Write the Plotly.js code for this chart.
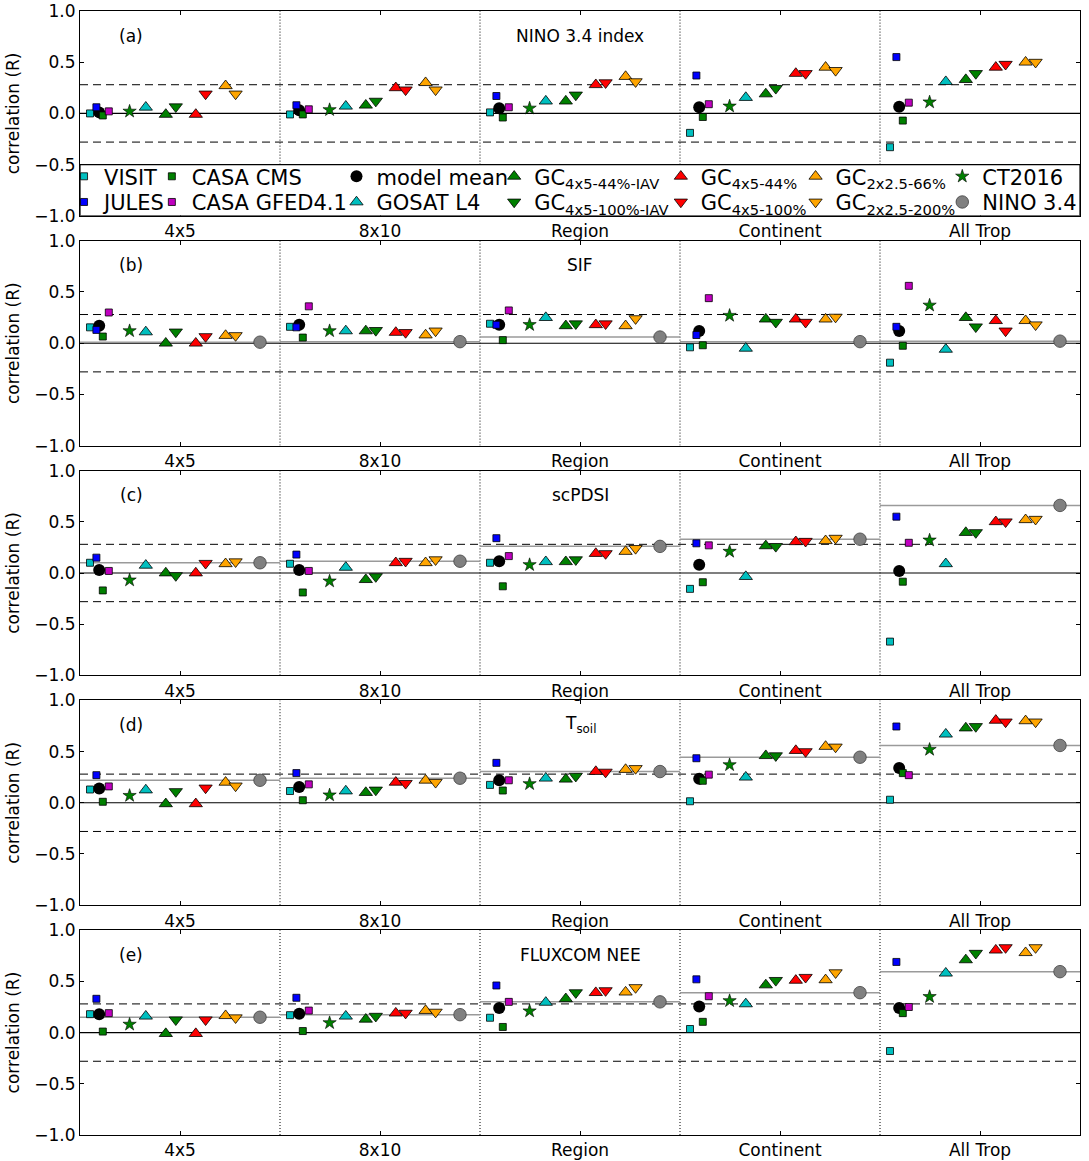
<!DOCTYPE html>
<html>
<head>
<meta charset="utf-8">
<script src="https://cdn.plot.ly/plotly-3.0.1.min.js"></script>
<style>body{margin:0;padding:0;background:#fff;} #chart{width:1089px;height:1161px;}</style>
</head>
<body>
<div id="chart"></div>
<script>
// ---------------- DATA ----------------
const groups = ['4x5', '8x10', 'Region', 'Continent', 'All Trop'];
const panelLetters = ['(a)', '(b)', '(c)', '(d)', '(e)'];
const panelTitles = ['NINO 3.4 index', 'SIF', 'scPDSI', 'T<sub>soil</sub>', 'FLUXCOM NEE'];
const sigR = 0.28;

// values: [panel a..e][group 4x5, 8x10, Region, Continent, All Trop]
const VISIT = [
  [0.0, -0.01, 0.01, -0.19, -0.33],
  [0.155, 0.16, 0.19, -0.04, -0.19],
  [0.10, 0.09, 0.10, -0.155, -0.67],
  [0.13, 0.115, 0.175, 0.015, 0.03],
  [0.18, 0.17, 0.145, 0.035, -0.18]];
const JULES = [
  [0.06, 0.08, 0.17, 0.37, 0.55],
  [0.13, 0.155, 0.18, 0.08, 0.16],
  [0.15, 0.18, 0.34, 0.29, 0.55],
  [0.27, 0.29, 0.39, 0.435, 0.745],
  [0.33, 0.34, 0.46, 0.52, 0.69]];
const MODEL_MEAN = [
  [0.01, 0.03, 0.05, 0.06, 0.065],
  [0.17, 0.18, 0.18, 0.12, 0.12],
  [0.03, 0.03, 0.115, 0.08, 0.02],
  [0.14, 0.155, 0.22, 0.235, 0.34],
  [0.18, 0.185, 0.24, 0.255, 0.24]];
const CASA_CMS = [
  [-0.02, -0.01, -0.04, -0.035, -0.07],
  [0.065, 0.055, 0.03, -0.02, -0.025],
  [-0.17, -0.19, -0.13, -0.09, -0.085],
  [0.01, 0.025, 0.12, 0.215, 0.29],
  [0.01, 0.015, 0.055, 0.105, 0.19]];
const CASA_GFED = [
  [0.02, 0.04, 0.06, 0.09, 0.105],
  [0.30, 0.36, 0.32, 0.44, 0.56],
  [0.02, 0.02, 0.165, 0.27, 0.295],
  [0.16, 0.18, 0.22, 0.275, 0.27],
  [0.19, 0.215, 0.30, 0.355, 0.25]];
const CT2016 = [
  [0.02, 0.035, 0.05, 0.07, 0.11],
  [0.12, 0.12, 0.18, 0.27, 0.37],
  [-0.07, -0.08, 0.08, 0.21, 0.32],
  [0.07, 0.075, 0.185, 0.37, 0.52],
  [0.08, 0.095, 0.21, 0.31, 0.35]];
const GOSAT_L4 = [
  [0.06, 0.07, 0.12, 0.155, 0.31],
  [0.11, 0.12, 0.25, -0.05, -0.06],
  [0.075, 0.055, 0.11, -0.035, 0.09],
  [0.125, 0.115, 0.24, 0.25, 0.67],
  [0.16, 0.16, 0.295, 0.28, 0.58]];
const GC_44_IAV = [
  [-0.01, 0.08, 0.12, 0.19, 0.33],
  [0.0, 0.12, 0.17, 0.235, 0.25],
  [0.0, -0.065, 0.11, 0.265, 0.395],
  [-0.01, 0.10, 0.23, 0.46, 0.73],
  [-0.01, 0.13, 0.33, 0.465, 0.71]];
const GC_100_IAV = [
  [0.065, 0.12, 0.18, 0.245, 0.39],
  [0.11, 0.125, 0.19, 0.205, 0.16],
  [-0.025, -0.035, 0.13, 0.26, 0.395],
  [0.11, 0.125, 0.26, 0.46, 0.745],
  [0.125, 0.16, 0.39, 0.51, 0.775]];
const GC_44 = [
  [-0.01, 0.25, 0.28, 0.39, 0.45],
  [0.0, 0.105, 0.18, 0.235, 0.22],
  [0.0, 0.10, 0.19, 0.305, 0.50],
  [-0.01, 0.20, 0.305, 0.51, 0.805],
  [-0.01, 0.19, 0.39, 0.51, 0.805]];
const GC_100 = [
  [0.19, 0.23, 0.30, 0.39, 0.48],
  [0.065, 0.105, 0.19, 0.205, 0.12],
  [0.095, 0.115, 0.19, 0.31, 0.50],
  [0.145, 0.19, 0.30, 0.50, 0.79],
  [0.125, 0.19, 0.41, 0.54, 0.83]];
const GC_66 = [
  [0.27, 0.30, 0.36, 0.45, 0.50],
  [0.075, 0.08, 0.17, 0.235, 0.22],
  [0.09, 0.10, 0.21, 0.315, 0.52],
  [0.20, 0.22, 0.325, 0.55, 0.80],
  [0.165, 0.215, 0.395, 0.515, 0.78]];
const GC_200 = [
  [0.19, 0.23, 0.31, 0.42, 0.50],
  [0.075, 0.12, 0.24, 0.255, 0.18],
  [0.11, 0.13, 0.24, 0.34, 0.525],
  [0.165, 0.20, 0.335, 0.545, 0.79],
  [0.145, 0.20, 0.44, 0.585, 0.83]];
const NINO34 = [
  null,
  [0.01, 0.015, 0.06, 0.015, 0.02],
  [0.10, 0.115, 0.26, 0.33, 0.66],
  [0.22, 0.24, 0.305, 0.445, 0.56],
  [0.15, 0.175, 0.30, 0.39, 0.595]];

// ---------------- STYLE ----------------
const CY = '#00BFBF', BL = '#0000FF', GR = '#008000', MG = '#BF00BF', RD = '#FF0000', OR = '#FFA500';
const series = [
  {name: 'model mean', data: MODEL_MEAN, sym: 'circle', color: '#000000', size: 12, lw: 0, off: 0.096, col: 2, row: 0},
  {name: 'VISIT', data: VISIT, sym: 'square', color: CY, size: 7, lw: 0.8, off: 0.05, col: 0, row: 0},
  {name: 'JULES', data: JULES, sym: 'square', color: BL, size: 7, lw: 0.8, off: 0.082, col: 0, row: 1},
  {name: 'CASA CMS', data: CASA_CMS, sym: 'square', color: GR, size: 7, lw: 0.8, off: 0.114, col: 1, row: 0},
  {name: 'CASA GFED4.1', data: CASA_GFED, sym: 'square', color: MG, size: 7, lw: 0.8, off: 0.144, col: 1, row: 1},
  {name: 'CT2016', data: CT2016, sym: 'star', color: GR, size: 10, lw: 0.6, off: 0.248, col: 6, row: 0},
  {name: 'GOSAT L4', data: GOSAT_L4, sym: 'triangle-up', color: CY, size: 11.5, lw: 0.8, off: 0.329, col: 2, row: 1},
  {name: 'GC<sub>4x5-44%-IAV</sub>', data: GC_44_IAV, sym: 'triangle-up', color: GR, size: 11.5, lw: 0.8, off: 0.429, col: 3, row: 0},
  {name: 'GC<sub>4x5-100%-IAV</sub>', data: GC_100_IAV, sym: 'triangle-down', color: GR, size: 11.5, lw: 0.8, off: 0.479, col: 3, row: 1},
  {name: 'GC<sub>4x5-44%</sub>', data: GC_44, sym: 'triangle-up', color: RD, size: 11.5, lw: 0.8, off: 0.579, col: 4, row: 0},
  {name: 'GC<sub>4x5-100%</sub>', data: GC_100, sym: 'triangle-down', color: RD, size: 11.5, lw: 0.8, off: 0.628, col: 4, row: 1},
  {name: 'GC<sub>2x2.5-66%</sub>', data: GC_66, sym: 'triangle-up', color: OR, size: 11.5, lw: 0.8, off: 0.728, col: 5, row: 0},
  {name: 'GC<sub>2x2.5-200%</sub>', data: GC_200, sym: 'triangle-down', color: OR, size: 11.5, lw: 0.8, off: 0.778, col: 5, row: 1},
  {name: 'NINO 3.4', data: NINO34, sym: 'circle', color: '#808080', size: 12.5, lw: 0.8, off: 0.90, col: 6, row: 1, lc: '#404040'}
];

// geometry
const W = 1089, H = 1161;
const mL = 80, mR = 7, mT = 10.5, mB = 25.5;
const plotW = W - mL - mR, plotH = H - mT - mB;
const panelStep = 230, panelH = 205;
const legendTextX = [104, 192, 377, 535, 702, 837, 984];
const legendRowY = [176.3, 202];

const traces = [];
const nP = 5, nG = groups.length;

// gray reference lines (NINO 3.4 correlation per group)
for (let p = 0; p < nP; p++) {
  if (!NINO34[p]) continue;
  const xs = [], ys = [];
  for (let g = 0; g < nG; g++) {
    xs.push(g, g + 1, null);
    ys.push(NINO34[p][g], NINO34[p][g], null);
  }
  traces.push({
    type: 'scatter', mode: 'lines', x: xs, y: ys,
    xaxis: p ? 'x' + (p + 1) : 'x', yaxis: p ? 'y' + (p + 1) : 'y',
    line: {color: '#9a9a9a', width: 1.5}, showlegend: false, hoverinfo: 'skip'
  });
}

const legendAssigned = {};
series.forEach((s, si) => {
  for (let p = 0; p < nP; p++) {
    if (!s.data[p]) continue;
    const xs = groups.map((g, gi) => gi + s.off);
    const legendKey = 'legend' + (si === 0 ? '' : (si + 1));
    const show = !legendAssigned[si];
    legendAssigned[si] = true;
    traces.push({
      type: 'scatter', mode: 'markers', name: s.name,
      x: xs, y: s.data[p],
      xaxis: p ? 'x' + (p + 1) : 'x', yaxis: p ? 'y' + (p + 1) : 'y',
      marker: {symbol: s.sym, color: s.color, size: s.size,
               line: {color: s.lc || '#000000', width: s.lw}},
      showlegend: show, legend: legendKey
    });
  }
});

const layout = {
  width: W, height: H,
  margin: {l: mL, r: mR, t: mT, b: mB, pad: 0},
  paper_bgcolor: '#ffffff', plot_bgcolor: '#ffffff',
  font: {family: 'DejaVu Sans, sans-serif', size: 17, color: '#000000'},
  showlegend: true,
  shapes: [], annotations: []
};

for (let p = 0; p < nP; p++) {
  const top = 1 - (panelStep * p) / plotH;
  const bot = 1 - (panelStep * p + panelH) / plotH;
  const xk = p ? 'xaxis' + (p + 1) : 'xaxis';
  const yk = p ? 'yaxis' + (p + 1) : 'yaxis';
  const xr = p ? 'x' + (p + 1) : 'x';
  const yr = p ? 'y' + (p + 1) : 'y';
  layout[xk] = {
    domain: [0, 1], anchor: yr, range: [0, 5],
    tickmode: 'array', tickvals: groups.map((g, i) => i + 0.5), ticktext: groups,
    ticks: 'inside', ticklen: 4, tickwidth: 1, tickcolor: '#000',
    showline: true, linecolor: '#000', linewidth: 1, mirror: 'ticks',
    showgrid: false, zeroline: false, fixedrange: true,
    tickfont: {size: 17}
  };
  layout[yk] = {
    domain: [bot, top], anchor: xr, range: [-1, 1],
    tickmode: 'array', tickvals: [-1, -0.5, 0, 0.5, 1], tickformat: '.1f',
    ticks: 'inside', ticklen: 4, tickwidth: 1, tickcolor: '#000',
    showline: true, linecolor: '#000', linewidth: 1, mirror: 'ticks',
    showgrid: false, zeroline: false, fixedrange: true,
    tickfont: {size: 17},
    title: {text: 'correlation (R)', font: {size: 17}, standoff: 10}
  };
  // significance dashed lines
  [sigR, -sigR].forEach(v => layout.shapes.push({
    type: 'line', xref: xr, yref: yr, x0: 0, x1: 5, y0: v, y1: v, layer: 'below',
    line: {color: '#000', width: 1, dash: '8px,5px'}
  }));
  // zero line
  layout.shapes.push({type: 'line', xref: xr, yref: yr, x0: 0, x1: 5, y0: 0, y1: 0, layer: 'below',
    line: {color: '#000', width: 1.1}});
  // group separators
  for (let g = 1; g < nG; g++) {
    layout.shapes.push({type: 'line', xref: xr, yref: yr, x0: g, x1: g, y0: p === 0 ? -0.5 : -1, y1: 1, layer: 'below',
      line: {color: '#000', width: 1, dash: '1px,2px'}});
  }
  layout.annotations.push({xref: xr, yref: yr, x: 0.255, y: 0.76, text: panelLetters[p], showarrow: false,
    font: {size: 17}, xanchor: 'center', yanchor: 'middle'});
  layout.annotations.push({xref: xr, yref: yr, x: 2.5, y: 0.76, text: panelTitles[p], showarrow: false,
    font: {size: 17}, xanchor: 'center', yanchor: 'middle'});
}
// legend frame in panel (a)
layout.shapes.push({type: 'rect', xref: 'x', yref: 'y', x0: 0, x1: 5, y0: -1, y1: -0.5, layer: 'above',
  fillcolor: '#ffffff', line: {color: '#000', width: 1.2}});

series.forEach((s, si) => {
  const key = 'legend' + (si === 0 ? '' : (si + 1));
  layout[key] = {
    x: (legendTextX[s.col] - 40 - mL) / plotW, xanchor: 'left', xref: 'paper',
    y: 1 - (legendRowY[s.row] - mT) / plotH, yanchor: 'middle', yref: 'paper',
    orientation: 'v', bgcolor: 'rgba(0,0,0,0)', borderwidth: 0,
    font: {size: 21, family: 'DejaVu Sans, sans-serif', color: '#000'},
    itemclick: false, itemdoubleclick: false
  };
});

Plotly.newPlot('chart', traces, layout, {displayModeBar: false, staticPlot: true});
</script>
</body>
</html>
